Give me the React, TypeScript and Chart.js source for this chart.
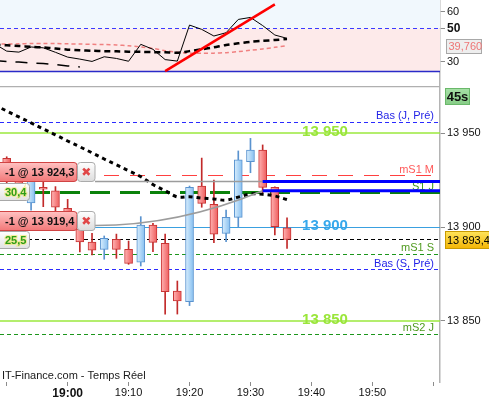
import React, { useEffect, useRef } from 'react';
import { Chart, registerables } from 'chart.js';

Chart.register(...registerables);

const FONT = "'Liberation Sans', Arial, Helvetica, sans-serif";

// ---------------- data ----------------
const times = ['18:48', '18:50', '18:52', '18:54', '18:56', '18:58', '19:00', '19:02', '19:04', '19:06', '19:08', '19:10', '19:12', '19:14', '19:16', '19:18', '19:20', '19:22', '19:24', '19:26', '19:28', '19:30', '19:32', '19:34', '19:36'];
const opens = [13941, 13936.7, 13926, 13912.9, 13921.2, 13919.4, 13910, 13899, 13892.0, 13888.2, 13893.5, 13888.2, 13881.3, 13901.1, 13891.4, 13866.0, 13860.3, 13921.9, 13912.2, 13896.7, 13905.2, 13934.9, 13941.1, 13921.2, 13899.7];
const highs = [13943, 13937.5, 13930, 13928, 13924.2, 13921.6, 13914.8, 13902, 13896.7, 13895.3, 13896.3, 13892.6, 13905.6, 13902.0, 13896.3, 13871.3, 13921.9, 13936.8, 13925.1, 13909.1, 13940.6, 13947.3, 13943.8, 13921.5, 13905.0];
const lows = [13934, 13922, 13915, 13909.1, 13910.9, 13908.2, 13899, 13886.8, 13885.2, 13882.9, 13883.4, 13880.2, 13879.3, 13886.9, 13853.7, 13853.7, 13858.2, 13910.6, 13891.7, 13892.2, 13899.9, 13929, 13918.4, 13895.8, 13888.7];
const closes = [13936.5, 13926, 13917, 13925, 13920.2, 13910.6, 13902, 13892.1, 13887.8, 13894.1, 13888.2, 13880.7, 13901.1, 13891.9, 13865.6, 13860.7, 13921.2, 13912.7, 13896.2, 13905.2, 13935.8, 13941.1, 13921.2, 13900.2, 13893.4];
const priceMA = [13965.1, 13961.9, 13958.7, 13955.6, 13952.3, 13949.2, 13945.9, 13942.8, 13939.6, 13936.3, 13933.2, 13930.0, 13926.9, 13922.7, 13919.4, 13916.1, 13916.2, 13915.5, 13915.0, 13914.4, 13916.0, 13917.7, 13917.5, 13916.6, 13914.7];

const rsi = [40.8, 36.4, 35.8, 38.9, 38.4, 35.7, 32.8, 31.6, 30.2, 33.0, 32.0, 30.3, 40.5, 37.5, 31.3, 30.4, 52.1, 49.5, 45.5, 47.5, 55.5, 56.7, 51.8, 46.1, 44.1];
const rsiSignal = [40.2, 39.9, 39.5, 39.0, 38.6, 38.0, 37.3, 36.9, 36.6, 36.4, 36.3, 36.1, 36.0, 35.8, 35.7, 35.4, 36.4, 37.5, 38.7, 40.1, 41.1, 42.0, 42.6, 43.1, 43.7];
const rsiAverage = [40.6, 40.7, 40.8, 41.0, 41.0, 41.0, 40.8, 40.7, 40.5, 40.4, 40.1, 39.6, 38.9, 38.0, 36.7, 35.8, 35.2, 35.1, 35.2, 35.5, 36.1, 36.9, 37.7, 38.7, 39.76];
const rsiSlow = [30.8, 30.2, 29.8, 29.3, 28.9, 28.3, 27.5, 26.9, null, null, null, null, null, null, null, null, null, null, null, null, null, null, null, null, null];
const trendTimes = ['19:16', '19:34'];
const trendValues = [24.4, 64.6];
const rsiMid = 50;
const rsiFloor = 24.4;
const rsiLast = 39.76;
const rsiTicks = [30, 50, 60];

const priceTicks = [13850, 13900, 13950];
const xTickTimes = ['18:50', '19:00', '19:10', '19:20', '19:30', '19:40', '19:50', '20:00'];
const xTickLabels = ['', '19:00', '19:10', '19:20', '19:30', '19:40', '19:50', ''];
const boldTime = '19:00';

const levelValues = [13955.9, 13950, 13927.3, 13918.4, 13900, 13885.5, 13877.2, 13850, 13842.9];
const levelNames = ['Bas (J, Pré)', '13 950', 'mS1 M', 'S1 J', '13 900', 'mS1 S', 'Bas (S, Pré)', '13 850', 'mS2 J'];
const levelKinds = ['low', 'round50', 'mpivotR', 'pivot', 'round100', 'mpivotG', 'low', 'round50', 'mpivotG'];

const currentPrice = 13893.4;
const orderPrices = [13924.3, 13919.4];
const orderLabels = ['-1 @ 13 924,3', '-1 @ 13 919,4'];
const orderFillTime = '19:32';
const tagTexts = ['30,4', '25,5'];
const timerText = '45s';
const sourceNote = 'IT-Finance.com - Temps Réel';

// axis windows
const X_MIN = 1128.9;
const X_MAX = 1201.1;
const PRICE_MIN = 13817.5;
const PRICE_MAX = 13975.2;
const RSI_MIN = 15.4;
const RSI_MAX = 67.2;

// ---------------- helpers ----------------
const toMin = (t: string) => {
  const [h, m] = t.split(':').map(Number);
  return h * 60 + m;
};
const fmtNum = (v: number, d: number) => {
  const s = v.toFixed(d);
  const [i, f] = s.split('.');
  const ii = i.replace(/\B(?=(\d{3})+(?!\d))/g, ' ');
  return f !== undefined ? `${ii},${f}` : ii;
};
const snap = (v: number, w: number) => (Math.round(w) % 2 === 1 ? Math.round(v - 0.5) + 0.5 : Math.round(v));

const LEVEL_STYLE: Record<string, any> = {
  low: { color: '#2b2bff', width: 1, dash: [4, 3], text: '#1f1fe6', big: false },
  round50: { color: '#9be83c', width: 1.5, dash: [], text: '#9ae63a', big: true },
  round100: { color: '#3aa0e0', width: 1, dash: [], text: '#36a8ec', big: true },
  mpivotR: { color: '#ff4040', width: 1, dash: [15, 11], text: '#ff5a5a', big: false },
  pivot: { color: '#0a820a', width: 3, dash: [20, 10], text: '#3c9a1e', big: false },
  mpivotG: { color: '#1c961c', width: 1, dash: [4, 3], text: '#4f9a1e', big: false },
};

function hline(ctx: any, x0: number, x1: number, y: number, color: string, width: number, dash: number[]) {
  ctx.save();
  ctx.strokeStyle = color;
  ctx.lineWidth = width;
  ctx.setLineDash(dash);
  ctx.beginPath();
  ctx.moveTo(x0, y);
  ctx.lineTo(x1, y);
  ctx.stroke();
  ctx.restore();
}

function rrect(ctx: any, x: number, y: number, w: number, h: number, r: number) {
  ctx.beginPath();
  ctx.moveTo(x + r, y);
  ctx.lineTo(x + w - r, y);
  ctx.quadraticCurveTo(x + w, y, x + w, y + r);
  ctx.lineTo(x + w, y + h - r);
  ctx.quadraticCurveTo(x + w, y + h, x + w - r, y + h);
  ctx.lineTo(x + r, y + h);
  ctx.quadraticCurveTo(x, y + h, x, y + h - r);
  ctx.lineTo(x, y + r);
  ctx.quadraticCurveTo(x, y, x + r, y);
  ctx.closePath();
}

function drawOrderLabel(ctx: any, text: string, top: number, h: number) {
  const t = Math.round(top) + 0.5;
  const g = ctx.createLinearGradient(0, t, 0, t + h);
  g.addColorStop(0, '#ffc2c2');
  g.addColorStop(1, '#f27878');
  ctx.fillStyle = g;
  ctx.strokeStyle = '#d04444';
  ctx.lineWidth = 1;
  rrect(ctx, -4.5, t, 81.5, h, 3);
  ctx.fill();
  ctx.stroke();
  ctx.fillStyle = '#111';
  ctx.font = `bold 11px ${FONT}`;
  ctx.textAlign = 'left';
  ctx.textBaseline = 'middle';
  ctx.fillText(text, 5, t + h / 2 + 0.5);
  const g2 = ctx.createLinearGradient(0, t, 0, t + h);
  g2.addColorStop(0, '#ffffff');
  g2.addColorStop(1, '#dcdcdc');
  ctx.fillStyle = g2;
  ctx.strokeStyle = '#ababab';
  rrect(ctx, 77.5, t, 17.5, h, 3);
  ctx.fill();
  ctx.stroke();
  ctx.fillStyle = '#e04646';
  ctx.font = `bold 12px 'DejaVu Sans', ${FONT}`;
  ctx.textAlign = 'center';
  ctx.fillText('\u2716', 86.3, t + h / 2 + 0.5);
}

function drawTag(ctx: any, text: string, top: number, h: number) {
  const t = Math.round(top) + 0.5;
  const g = ctx.createLinearGradient(0, t, 0, t + h);
  g.addColorStop(0, '#ffffff');
  g.addColorStop(1, '#e2e2e2');
  ctx.fillStyle = g;
  ctx.strokeStyle = '#a8a8a8';
  ctx.lineWidth = 1;
  rrect(ctx, -4.5, t, 34, h, 3);
  ctx.fill();
  ctx.stroke();
  ctx.font = `bold 11px ${FONT}`;
  ctx.textAlign = 'left';
  ctx.textBaseline = 'middle';
  ctx.lineWidth = 2;
  ctx.strokeStyle = 'rgba(240,230,80,0.55)';
  ctx.strokeText(text, 5, t + h / 2 + 0.5);
  ctx.fillStyle = '#2c9c18';
  ctx.fillText(text, 5, t + h / 2 + 0.5);
}

export default function App() {
  const rsiRef = useRef<HTMLCanvasElement>(null);
  const mainRef = useRef<HTMLCanvasElement>(null);

  useEffect(() => {
    document.body.style.margin = '0';
    const mins = times.map(toMin);
    const isUp = (i: number) => closes[i] >= opens[i];

    const rsiPlugin = {
      id: 'rsiPanel',
      beforeDatasetsDraw(chart: any) {
        const { ctx, chartArea: a, scales } = chart;
        const y = scales.y;
        const yMid = y.getPixelForValue(rsiMid);
        const yFloor = y.getPixelForValue(rsiFloor);
        ctx.save();
        ctx.fillStyle = '#f1f8fd';
        ctx.fillRect(a.left, a.top, a.right - a.left, yMid - a.top);
        ctx.fillStyle = '#fdeaea';
        ctx.fillRect(a.left, yMid, a.right - a.left, yFloor - yMid);
        ctx.restore();
        hline(ctx, a.left, a.right, snap(yFloor, 1), '#2a2ac8', 1.5, []);
        hline(ctx, a.left, a.right, snap(yMid, 1), '#3b3bff', 1, [4, 3]);
      },
      afterDraw(chart: any) {
        const { ctx, chartArea: a, scales } = chart;
        const py = scales.y.getPixelForValue(rsiLast);
        ctx.save();
        const bx = a.right + 6.5, bw = 35, bh = 14, by = Math.round(py - bh / 2) + 0.5;
        ctx.fillStyle = '#eeeeee';
        ctx.strokeStyle = '#a8a8a8';
        ctx.lineWidth = 1;
        ctx.fillRect(bx, by, bw, bh);
        ctx.strokeRect(bx, by, bw, bh);
        ctx.fillStyle = '#ee7676';
        ctx.font = `11px ${FONT}`;
        ctx.textBaseline = 'middle';
        ctx.textAlign = 'left';
        ctx.fillText(fmtNum(rsiLast, 3), bx + 2, by + bh / 2 + 0.5);
        ctx.restore();
      },
    };

    const mainPlugin = {
      id: 'mainOverlay',
      beforeDatasetsDraw(chart: any) {
        const { ctx, chartArea: a, scales } = chart;
        const y = scales.y;
        ctx.save();
        ctx.beginPath();
        ctx.rect(a.left, a.top, a.right - a.left, a.bottom - a.top);
        ctx.clip();
        levelValues.forEach((v, i) => {
          const st = LEVEL_STYLE[levelKinds[i]];
          hline(ctx, a.left, a.right, snap(y.getPixelForValue(v), st.width), st.color, st.width, st.dash);
        });
        hline(ctx, a.left, a.right, snap(y.getPixelForValue(currentPrice), 1), '#000', 1, [4, 3]);
        levelValues.forEach((v, i) => {
          const st = LEVEL_STYLE[levelKinds[i]];
          const py = y.getPixelForValue(v);
          ctx.fillStyle = st.text;
          if (st.big) {
            ctx.font = `bold 15px ${FONT}`;
            ctx.textAlign = 'center';
            ctx.textBaseline = 'middle';
            ctx.fillText(levelNames[i], a.right - 115, py - 1.5);
          } else {
            ctx.font = `11px ${FONT}`;
            ctx.textAlign = 'right';
            ctx.textBaseline = 'alphabetic';
            ctx.fillText(levelNames[i], a.right - 6, py - 3);
          }
        });
        ctx.fillStyle = '#1a1a1a';
        ctx.font = `11px ${FONT}`;
        ctx.textAlign = 'left';
        ctx.textBaseline = 'alphabetic';
        ctx.fillText(sourceNote, a.left + 2, a.bottom - 3);
        ctx.restore();
      },
      afterDatasetsDraw(chart: any) {
        const { ctx, chartArea: a, scales } = chart;
        const { x, y } = scales;
        const xFill = x.getPixelForValue(toMin(orderFillTime));
        const yO1 = y.getPixelForValue(orderPrices[0]);
        const yO2 = y.getPixelForValue(orderPrices[1]);
        const yCur = y.getPixelForValue(currentPrice);
        const yPivot = y.getPixelForValue(levelValues[3]);
        const tagH = 17;
        const tag1Top = yPivot - 1.5 - tagH / 2;
        const tag2Top = yCur - tagH / 2;
        const lbl1Top = yO1 - 20;
        const lbl2Top = tag2Top - 20.5;
        const lblH = 19;
        ctx.save();
        ctx.beginPath();
        ctx.rect(a.left, a.top, a.right - a.left, a.bottom - a.top);
        ctx.clip();
        ctx.strokeStyle = '#9c9c9c';
        ctx.lineWidth = 1.5;
        ctx.beginPath();
        ctx.moveTo(95, yO1);
        ctx.lineTo(xFill, yO1);
        ctx.stroke();
        const sy = lbl2Top + lblH - 4;
        ctx.beginPath();
        ctx.moveTo(95, sy);
        ctx.quadraticCurveTo((95 + xFill) / 2, sy, xFill, yO2);
        ctx.stroke();
        hline(ctx, xFill, a.right, yO1, '#0000ff', 3, []);
        hline(ctx, xFill, a.right, yO2, '#0000ff', 3, []);
        drawOrderLabel(ctx, orderLabels[0], lbl1Top, lblH);
        drawTag(ctx, tagTexts[0], tag1Top, tagH);
        drawOrderLabel(ctx, orderLabels[1], lbl2Top, lblH);
        drawTag(ctx, tagTexts[1], tag2Top, tagH);
        ctx.restore();
      },
      afterDraw(chart: any) {
        const { ctx, chartArea: a, scales } = chart;
        const y = scales.y;
        hline(ctx, a.left, a.right, a.top + 0.5, '#b0b0b0', 1.5, []);
        ctx.save();
        const tx = a.right + 5.5, ty = a.top + 2.5;
        const g = ctx.createLinearGradient(0, ty, 0, ty + 16);
        g.addColorStop(0, '#a6e0a6');
        g.addColorStop(1, '#86cc86');
        ctx.fillStyle = g;
        ctx.strokeStyle = '#6ab86a';
        ctx.lineWidth = 1;
        ctx.fillRect(tx, ty, 24, 16);
        ctx.strokeRect(tx, ty, 24, 16);
        ctx.fillStyle = '#111';
        ctx.font = `bold 13px ${FONT}`;
        ctx.textAlign = 'center';
        ctx.textBaseline = 'middle';
        ctx.fillText(timerText, tx + 12, ty + 8.5);
        const py = y.getPixelForValue(currentPrice);
        const by = Math.round(py - 8.5) + 0.5;
        const g2 = ctx.createLinearGradient(0, by, 0, by + 17);
        g2.addColorStop(0, '#ffe45a');
        g2.addColorStop(1, '#f3b505');
        ctx.fillStyle = g2;
        ctx.strokeStyle = '#c99a00';
        ctx.fillRect(a.right + 5.5, by, 50, 17);
        ctx.strokeRect(a.right + 5.5, by, 50, 17);
        ctx.fillStyle = '#000';
        ctx.font = `11px ${FONT}`;
        ctx.textAlign = 'left';
        ctx.fillText(fmtNum(currentPrice, 1), a.right + 7, by + 9);
        ctx.restore();
      },
    };

    const bodyFill = (c: any) => {
      const i = c.dataIndex;
      const up = isUp(i);
      const fallback = up ? '#a9d3f4' : '#f58080';
      try {
        const xs = c.chart && c.chart.scales && c.chart.scales.x;
        if (!xs || c.type !== 'data') return fallback;
        const px = xs.getPixelForValue(mins[i]);
        const g = c.chart.ctx.createLinearGradient(px - 4, 0, px + 4, 0);
        if (up) {
          g.addColorStop(0, '#d9eefd');
          g.addColorStop(1, '#86bff0');
        } else {
          g.addColorStop(0, '#ffb4b4');
          g.addColorStop(1, '#ee5c5c');
        }
        return g;
      } catch (e) {
        return fallback;
      }
    };

    const yAfterFit = (s: any) => {
      s.width = 49;
      s.paddingTop = 0;
      s.paddingBottom = 0;
    };

    const mainChart = new Chart(mainRef.current as HTMLCanvasElement, {
      type: 'bar',
      data: {
        datasets: [
          {
            type: 'line',
            data: mins.map((x, i) => ({ x, y: priceMA[i] })),
            borderColor: '#000',
            borderWidth: 3,
            borderDash: [4, 4],
            pointRadius: 0,
            tension: 0.35,
            fill: false,
            order: 0,
          } as any,
          {
            type: 'bar',
            data: mins.map((x, i) => ({ x, y: [opens[i], closes[i]] })),
            barThickness: 8,
            grouped: false,
            borderWidth: 1,
            borderSkipped: false,
            borderColor: mins.map((_, i) => (isUp(i) ? '#5a93cf' : '#c83434')),
            backgroundColor: bodyFill,
            order: 1,
          } as any,
          {
            type: 'bar',
            data: mins.map((x, i) => ({ x, y: [lows[i], highs[i]] })),
            barThickness: 1,
            grouped: false,
            borderWidth: 0,
            backgroundColor: mins.map((_, i) => (isUp(i) ? '#5a93cf' : '#c22a2a')),
            order: 2,
          } as any,
        ],
      },
      options: {
        animation: false,
        responsive: false,
        maintainAspectRatio: false,
        devicePixelRatio: 1,
        layout: { padding: 0 },
        plugins: { legend: { display: false }, tooltip: { enabled: false } },
        scales: {
          x: {
            type: 'linear',
            min: X_MIN,
            max: X_MAX,
            offset: false,
            afterBuildTicks: (s: any) => {
              s.ticks = xTickTimes.map((t) => ({ value: toMin(t) }));
            },
            afterFit: (s: any) => {
              s.height = 18;
              s.paddingLeft = 0;
              s.paddingRight = 0;
            },
            ticks: {
              autoSkip: false,
              maxRotation: 0,
              padding: 0,
              color: '#111',
              callback: (v: any) => {
                const k = xTickTimes.map(toMin).indexOf(Number(v));
                return k >= 0 ? xTickLabels[k] : '';
              },
              font: (c: any) => {
                const b = c.tick && c.tick.value === toMin(boldTime);
                return { family: FONT, size: b ? 12 : 11, weight: b ? 'bold' : 'normal' };
              },
            },
            grid: { display: true, drawOnChartArea: false, drawTicks: true, tickLength: 4, color: '#8c8c8c', offset: false },
            border: { display: false },
          },
          y: {
            type: 'linear',
            position: 'right',
            min: PRICE_MIN,
            max: PRICE_MAX,
            afterBuildTicks: (s: any) => {
              s.ticks = priceTicks.map((v) => ({ value: v }));
            },
            afterFit: yAfterFit,
            ticks: {
              padding: 2,
              color: '#111',
              font: { family: FONT, size: 11 },
              callback: (v: any) => fmtNum(Number(v), 0),
            },
            grid: { drawOnChartArea: false, drawTicks: true, tickLength: 5, color: '#8c8c8c' },
            border: { display: true, color: '#b4b4b4', width: 1.5 },
          },
        },
      } as any,
      plugins: [mainPlugin],
    });

    const rsiChart = new Chart(rsiRef.current as HTMLCanvasElement, {
      type: 'line',
      data: {
        datasets: [
          {
            data: trendTimes.map((t, i) => ({ x: toMin(t), y: trendValues[i] })),
            borderColor: '#ff0000',
            borderWidth: 2.5,
            pointRadius: 0,
            order: 0,
          },
          {
            data: mins.map((x, i) => ({ x, y: rsi[i] })),
            borderColor: '#000',
            borderWidth: 1,
            pointRadius: 0,
            tension: 0,
            order: 1,
          },
          {
            data: mins.map((x, i) => ({ x, y: rsiSignal[i] })),
            borderColor: '#000',
            borderWidth: 2.5,
            borderDash: [6, 4],
            pointRadius: 0,
            tension: 0.3,
            order: 2,
          },
          {
            data: mins.map((x, i) => ({ x, y: rsiAverage[i] })),
            borderColor: '#f08080',
            borderWidth: 1.5,
            borderDash: [4, 3],
            pointRadius: 0,
            tension: 0.3,
            order: 3,
          },
          {
            data: mins.map((x, i) => ({ x, y: rsiSlow[i] })),
            borderColor: '#000',
            borderWidth: 1.5,
            borderDash: [12, 9],
            pointRadius: 0,
            spanGaps: false,
            order: 4,
          },
        ],
      } as any,
      options: {
        animation: false,
        responsive: false,
        maintainAspectRatio: false,
        devicePixelRatio: 1,
        layout: { padding: 0 },
        plugins: { legend: { display: false }, tooltip: { enabled: false } },
        scales: {
          x: { type: 'linear', display: false, min: X_MIN, max: X_MAX },
          y: {
            type: 'linear',
            position: 'right',
            min: RSI_MIN,
            max: RSI_MAX,
            afterBuildTicks: (s: any) => {
              s.ticks = rsiTicks.map((v) => ({ value: v }));
            },
            afterFit: yAfterFit,
            ticks: {
              padding: 2,
              color: '#111',
              callback: (v: any) => String(v),
              font: (c: any) => {
                const b = c.tick && c.tick.value === rsiMid;
                return { family: FONT, size: b ? 12 : 11, weight: b ? 'bold' : 'normal' };
              },
            },
            grid: { drawOnChartArea: false, drawTicks: true, tickLength: 5, color: '#8c8c8c' },
            border: { display: true, color: '#b4b4b4', width: 1.5 },
          },
        },
      } as any,
      plugins: [rsiPlugin],
    });

    return () => {
      mainChart.destroy();
      rsiChart.destroy();
    };
  }, []);

  return (
    <div style={{ position: 'fixed', left: 0, top: 0, width: 489, height: 400, background: '#fff', overflow: 'hidden' }}>
      <canvas ref={rsiRef} width={489} height={86} style={{ position: 'absolute', left: 0, top: 0, display: 'block' }} />
      <canvas ref={mainRef} width={489} height={314} style={{ position: 'absolute', left: 0, top: 86, display: 'block' }} />
    </div>
  );
}
